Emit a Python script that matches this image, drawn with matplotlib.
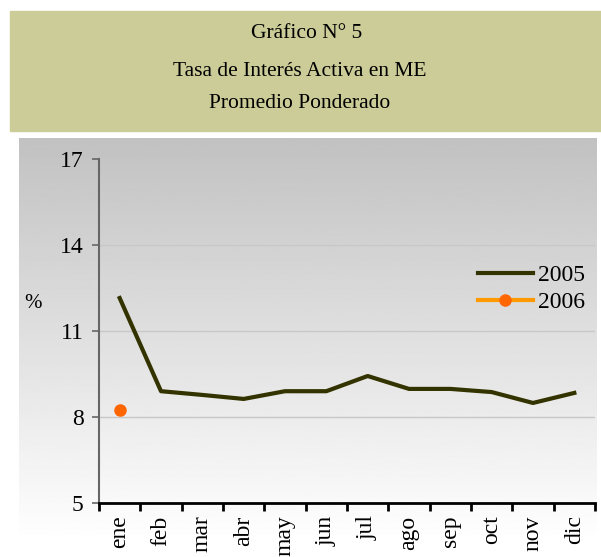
import numpy as np
import matplotlib.pyplot as plt
from matplotlib.patches import Rectangle

# data
months = ["ene", "feb", "mar", "abr", "may", "jun",
          "jul", "ago", "sep", "oct", "nov", "dic"]
rate_2005 = [12.15, 8.9, 8.77, 8.63, 8.9, 8.9, 9.43, 8.98, 8.98, 8.87, 8.49, 8.84]
rate_2006 = [8.24]
yticks = [5, 8, 11, 14, 17]

title_lines = ["Gráfico N° 5", "Tasa de Interés Activa en ME", "Promedio Ponderado"]

plt.rcParams["font.family"] = ["Liberation Serif", "DejaVu Serif"]

W, H = 601, 557
fig = plt.figure(figsize=(W / 100, H / 100), dpi=100)


def px(x0, y0, x1, y1):
    # pixel box (top-left origin) -> figure rect
    return [x0 / W, 1 - y1 / H, (x1 - x0) / W, (y1 - y0) / H]


# header box
fig.patches.append(Rectangle((10 / W, 1 - 131 / H), 1 - 10 / W, 120 / H,
                             transform=fig.transFigure, color="#CCCC99", zorder=0))
for txt, xx, yy in zip(title_lines, [307, 300, 300], [33, 71, 103]):
    fig.text(xx / W, 1 - yy / H, txt, ha="center", va="center", fontsize=15.5)

# gradient background for chart area
bg = fig.add_axes(px(19, 138, 597, 535), zorder=0)
grad = np.linspace(0, 1, 256).reshape(-1, 1)
bg.imshow(grad, aspect="auto", cmap="gray", vmin=-3.2, vmax=1.02,
          extent=[0, 1, 0, 1], origin="upper")
bg.axis("off")

# main axes
ax = fig.add_axes(px(99, 159, 595, 503), zorder=1)
ax.patch.set_visible(False)

x = np.arange(len(months))
ax.plot(x, rate_2005, color="#333300", lw=3, label="2005")
ax.plot(x[:len(rate_2006)], rate_2006, color="#FF9900", lw=3, marker="o",
        ms=8, mfc="#FF6600", mec="#FF6600", label="2006")

ax.set_ylim(5, 17)
ax.set_yticks(yticks)
ax.set_xlim(-0.5, 11.5)
ax.set_xticks(np.arange(-0.5, 12, 1))
ax.set_xticklabels([])
ax.set_xticks(x, minor=True)
ax.set_xticklabels(months, minor=True, rotation=90, fontsize=17)
ax.tick_params(axis="x", which="minor", length=0, pad=9)
ax.tick_params(axis="x", which="major", length=6, width=2, color="black", direction="out")
ax.tick_params(axis="y", length=5, width=1.2, color="#666666", labelsize=17, pad=6)

for v in yticks[1:-1]:
    ax.axhline(v, color="#C8C8C8", lw=1, zorder=0)

for s in ["top", "right"]:
    ax.spines[s].set_visible(False)
ax.spines["left"].set_color("#666666")
ax.spines["left"].set_linewidth(1.5)
ax.spines["bottom"].set_color("black")
ax.spines["bottom"].set_linewidth(2)

fig.text(33 / W, 1 - 303 / H, "%", ha="center", va="center", fontsize=15)

ax.legend(loc="center left", bbox_to_anchor=(457 / W, 1 - 289 / H),
          bbox_transform=fig.transFigure, frameon=False, fontsize=17,
          handlelength=2.3, handletextpad=0.25, labelspacing=0.25)

fig.savefig("out.png", dpi=100)
